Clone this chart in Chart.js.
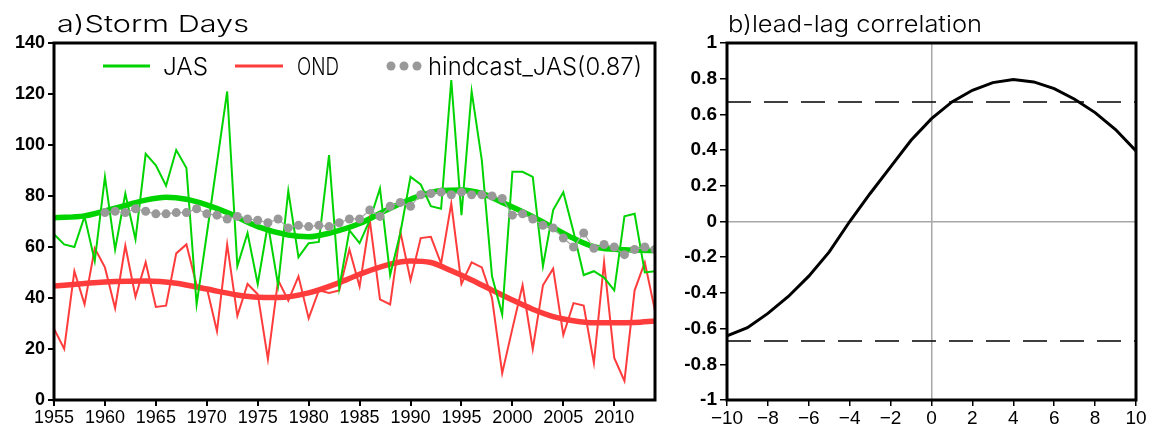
<!DOCTYPE html>
<html>
<head>
<meta charset="utf-8">
<title>Storm Days</title>
<script src="https://cdn.jsdelivr.net/npm/chart.js@4/dist/chart.umd.min.js"></script>
<style>
  html, body { margin: 0; padding: 0; background: #fff; }
  #wrap { position: relative; width: 1151px; height: 431px; }
  .panel { position: absolute; top: 0; height: 431px; }
</style>
</head>
<body>
<div id="wrap">
  <div class="panel" style="left:0;width:660px"><canvas id="stormChart" width="660" height="431"></canvas></div>
  <div class="panel" style="left:660px;width:491px"><canvas id="lagChart" width="491" height="431"></canvas></div>
</div>
<script>
// ---- data ----
var firstYear = 1955;
var jasDays = [65, 61, 60, 72, 54.5, 87.5, 59, 81, 63, 96.5,
  92, 84, 98, 91, 37.5, 65, 93, 121, 52.5, 65.5,
  45.5, 69, 45, 82, 56, 61.5, 62, 96, 44, 66.5,
  61.5, 70.5, 83, 49, 65.5, 87.5, 84.5, 76, 75, 125.5,
  72.5, 121, 94, 48.5, 33.5, 89.5, 89.5, 87.5, 52.5, 74.5,
  81.5, 66, 49, 50.5, 48, 43, 72, 73, 50, 50.5];
var ondDays = [28, 20, 50.5, 37.5, 59.5, 52, 36, 60.5, 40.5, 54,
  36.5, 37, 57.5, 61, 45, 44, 27, 61, 33, 45.5,
  41.5, 16, 47, 39, 48.5, 32, 43, 42, 43, 59,
  44.5, 70.5, 39.5, 37.5, 66, 47, 63.5, 64, 53.5, 77,
  45.5, 54, 52, 40, 10.5, 28, 45, 20, 45, 51.5,
  25.5, 38, 37, 14.5, 54, 16.5, 7.5, 43, 54, 35];
var hindcastStart = 1960;
var hindcastJas = [73.5, 74, 73.5, 75, 74, 73, 73, 73.5, 73.5, 75,
  73, 72.5, 71, 72, 71, 70.5, 69.5, 71, 67.5, 68.5,
  68, 68.5, 68, 69.5, 71, 71, 74.5, 72, 76, 77.5,
  76, 80.5, 81, 81.5, 80.5, 81.5, 80.5, 80.5, 80, 79,
  72.5, 73, 71, 68.5, 67.5, 63.5, 60, 65.5, 59.5, 61,
  60, 57, 59, 60, 59];
// low-pass curves, sampled where read
var smoothYears = [1955, 1958, 1961, 1964, 1966, 1968, 1970, 1972, 1975, 1978, 1980, 1982, 1985,
  1988, 1990, 1993, 1995, 1997, 1999, 2002, 2004, 2006, 2008, 2010, 2012, 2014];
var jasSmooth = [71.5, 72.2, 75.2, 78.4, 79.5, 78.7, 76.5, 73.5, 68, 64.7, 64, 65.4, 69.2,
  75.2, 78.7, 82.2, 82.4, 81, 77.5, 71.9, 67.6, 63.4, 60.1, 59.1, 58.8, 58.6];
var ondSmoothYears = [1955, 1958, 1961, 1964, 1967, 1970, 1973, 1975, 1977, 1980, 1983, 1985,
  1988, 1990, 1992, 1994, 1996, 1998, 2000, 2002, 2004, 2006, 2008, 2010, 2012, 2014];
var ondSmooth = [44.7, 45.7, 46.5, 46.7, 45.8, 43.5, 41.2, 40.3, 40.2, 42, 46, 49.3,
  53.3, 54.5, 53.9, 50.7, 47.1, 43.1, 39.2, 35.6, 32.7, 31.1, 30.3, 30.3, 30.4, 31];

var lags = [-10, -9, -8, -7, -6, -5, -4, -3, -2, -1, 0, 1, 2, 3, 4, 5, 6, 7, 8, 9, 10];
var lagCorr = [-0.64, -0.595, -0.515, -0.42, -0.306, -0.17, 0.0, 0.157, 0.306, 0.455,
  0.576, 0.67, 0.735, 0.778, 0.795, 0.782, 0.744, 0.685, 0.61, 0.515, 0.395];
var sigLevel = 0.67;

var stormTicks = { min: 0, max: 140, step: 20 };
var yearTicks = { min: 1955, max: 2014, step: 5, last: 2010 };

var GREEN = '#00d400';
var RED = '#ff3c3c';
var GREY = '#999999';
var TEXT_FONT = '300 23px Inter, "DejaVu Sans", sans-serif';

function toPoints(xs, ys) {
  return ys.map(function (v, i) { return { x: xs[i], y: v }; });
}
function yearPoints(start, ys) {
  return ys.map(function (v, i) { return { x: start + i, y: v }; });
}

// the NCL stroke font is wide, so stretch the text sideways to the width seen
function fitText(ctx, text, x, y, width) {
  var w = ctx.measureText(text).width;
  ctx.save();
  ctx.translate(x, y);
  ctx.scale(width / w, 1);
  ctx.fillText(text, 0, 0);
  ctx.restore();
}

// thick black box round the plot area
var framePlugin = {
  id: 'frame',
  afterDatasetsDraw: function (chart) {
    var a = chart.chartArea, ctx = chart.ctx;
    ctx.save();
    ctx.strokeStyle = '#000';
    ctx.lineWidth = 3;
    ctx.strokeRect(a.left, a.top, a.right - a.left, a.bottom - a.top);
    ctx.restore();
  }
};

// panel title like "a)Storm Days"
var titlePlugin = {
  id: 'panelTitle',
  afterDraw: function (chart, args, opts) {
    var ctx = chart.ctx;
    ctx.save();
    ctx.fillStyle = '#000';
    ctx.font = TEXT_FONT;
    ctx.textBaseline = 'alphabetic';
    fitText(ctx, opts.text, chart.chartArea.left + opts.dx, opts.y, opts.width);
    ctx.restore();
  }
};

// legend drawn inside the plot, across the top
var stormLegend = {
  id: 'stormLegend',
  afterDraw: function (chart) {
    var ctx = chart.ctx, x0 = chart.chartArea.left, y = 66;
    ctx.save();
    ctx.font = '300 24px Inter, "DejaVu Sans", sans-serif';
    ctx.fillStyle = '#000';
    ctx.textBaseline = 'alphabetic';
    ctx.lineWidth = 3;
    ctx.strokeStyle = GREEN;
    ctx.beginPath(); ctx.moveTo(x0 + 49, y); ctx.lineTo(x0 + 96, y); ctx.stroke();
    fitText(ctx, 'JAS', x0 + 109, y + 9, 45);
    ctx.strokeStyle = RED;
    ctx.beginPath(); ctx.moveTo(x0 + 181, y); ctx.lineTo(x0 + 229, y); ctx.stroke();
    fitText(ctx, 'OND', x0 + 243, y + 9, 42);
    ctx.fillStyle = GREY;
    [337, 350, 363].forEach(function (dx) {
      ctx.beginPath(); ctx.arc(x0 + dx, y, 4.5, 0, Math.PI * 2); ctx.fill();
    });
    ctx.fillStyle = '#000';
    fitText(ctx, 'hindcast_JAS(0.87)', x0 + 374, y + 9, 214);
    ctx.restore();
  }
};

var stormChart = new Chart(document.getElementById('stormChart'), {
  type: 'line',
  data: {
    datasets: [
      {
        label: 'hindcast_JAS(0.87)',
        data: yearPoints(hindcastStart, hindcastJas),
        borderColor: '#a8a8a8', borderWidth: 1.2,
        pointRadius: 4.5, pointBackgroundColor: GREY, pointBorderWidth: 0,
        order: 1
      },
      {
        label: 'JAS',
        data: yearPoints(firstYear, jasDays),
        borderColor: GREEN, borderWidth: 2, pointRadius: 0,
        order: 2
      },
      {
        label: 'OND',
        data: yearPoints(firstYear, ondDays),
        borderColor: RED, borderWidth: 2, pointRadius: 0,
        order: 3
      },
      {
        label: 'JAS smooth',
        data: toPoints(smoothYears, jasSmooth),
        borderColor: GREEN, borderWidth: 5.5, pointRadius: 0,
        cubicInterpolationMode: 'monotone',
        order: 4
      },
      {
        label: 'OND smooth',
        data: toPoints(ondSmoothYears, ondSmooth),
        borderColor: RED, borderWidth: 5.5, pointRadius: 0,
        cubicInterpolationMode: 'monotone',
        order: 5
      }
    ]
  },
  options: {
    responsive: false,
    animation: false,
    layout: { padding: { top: 43, right: 5, left: 0, bottom: 0 } },
    plugins: {
      legend: { display: false },
      tooltip: { enabled: false },
      panelTitle: { text: 'a)Storm Days', dx: 3, y: 32, width: 192 }
    },
    scales: {
      x: {
        type: 'linear',
        min: yearTicks.min, max: yearTicks.max,
        afterBuildTicks: function (scale) {
          var t = [];
          for (var v = yearTicks.min; v <= yearTicks.last; v += yearTicks.step) t.push({ value: v });
          scale.ticks = t;
        },
        afterFit: function (s) { s.height = 31; },
        grid: { drawOnChartArea: false, color: '#000', tickLength: 6, lineWidth: 2 },
        border: { display: false },
        ticks: {
          autoSkip: false, maxRotation: 0, padding: 1,
          color: '#000', font: { family: 'Liberation Sans', size: 18 },
          callback: function (v) { return String(v); }
        }
      },
      y: {
        min: stormTicks.min, max: stormTicks.max,
        afterFit: function (s) { s.width = 54; },
        grid: { drawOnChartArea: false, color: '#000', tickLength: 6, lineWidth: 2 },
        border: { display: false },
        ticks: {
          stepSize: stormTicks.step, padding: 3,
          color: '#000', font: { family: 'Liberation Sans', size: 18, weight: 'bold' }
        }
      }
    }
  },
  plugins: [framePlugin, titlePlugin, stormLegend]
});

// right panel
var lagChart = new Chart(document.getElementById('lagChart'), {
  type: 'line',
  data: {
    datasets: [
      {
        label: 'lead-lag correlation',
        data: toPoints(lags, lagCorr),
        borderColor: '#000', borderWidth: 3, pointRadius: 0,
        order: 1
      },
      {
        label: 'upper',
        data: [{ x: lags[0], y: sigLevel }, { x: lags[lags.length - 1], y: sigLevel }],
        borderColor: '#000', borderWidth: 1.5, borderDash: [24, 13], pointRadius: 0,
        order: 2
      },
      {
        label: 'lower',
        data: [{ x: lags[0], y: -sigLevel }, { x: lags[lags.length - 1], y: -sigLevel }],
        borderColor: '#000', borderWidth: 1.5, borderDash: [24, 13], pointRadius: 0,
        order: 3
      }
    ]
  },
  options: {
    responsive: false,
    animation: false,
    layout: { padding: { top: 43, right: 15, left: 0, bottom: 0 } },
    plugins: {
      legend: { display: false },
      tooltip: { enabled: false },
      panelTitle: { text: 'b)lead-lag correlation', dx: 1, y: 32, width: 254 }
    },
    scales: {
      x: {
        type: 'linear', min: -10, max: 10,
        afterFit: function (s) { s.height = 31; },
        grid: {
          color: function (c) { return Math.abs(c.tick.value) < 1e-9 ? '#a8a8a8' : 'rgba(0,0,0,0)'; },
          lineWidth: 1.5, tickColor: '#000', tickLength: 6
        },
        border: { display: false },
        ticks: {
          stepSize: 2, autoSkip: false, maxRotation: 0, padding: 1,
          color: '#000', font: { family: 'Liberation Sans', size: 19 },
          callback: function (v) { return String(v).replace('-', '\u2212'); }
        }
      },
      y: {
        min: -1, max: 1,
        afterFit: function (s) { s.width = 67; },
        grid: {
          color: function (c) { return Math.abs(c.tick.value) < 1e-9 ? '#a8a8a8' : 'rgba(0,0,0,0)'; },
          lineWidth: 1.5, tickColor: '#000', tickLength: 7
        },
        border: { display: false },
        ticks: {
          stepSize: 0.2, padding: 3,
          color: '#000', font: { family: 'Liberation Sans', size: 19, weight: 'bold' },
          callback: function (v) {
            var r = Math.round(v * 10) / 10;
            return Math.abs(r) < 1e-9 ? '0' : String(r);
          }
        }
      }
    }
  },
  plugins: [framePlugin, titlePlugin]
});
</script>
</body>
</html>
